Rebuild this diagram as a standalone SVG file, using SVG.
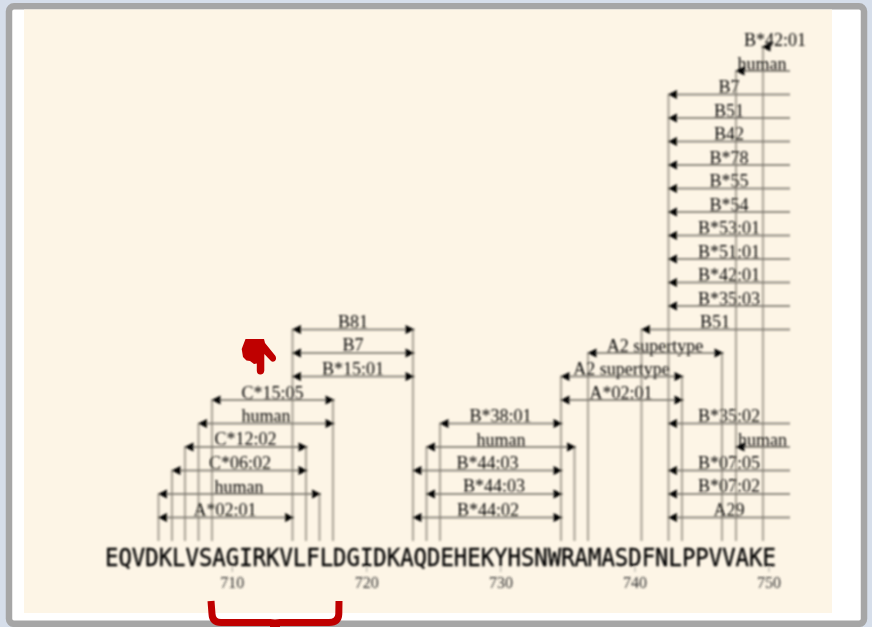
<svg xmlns="http://www.w3.org/2000/svg" width="872" height="627" viewBox="0 0 872 627">
<style>
.v{stroke:#8d877c;stroke-opacity:.7;stroke-width:2.2;fill:none}
.h{stroke:#7d7870;stroke-opacity:.85;stroke-width:1.8;fill:none;marker-start:url(#a);marker-end:url(#a)}
.l{stroke:#7d7870;stroke-opacity:.85;stroke-width:1.8;fill:none;marker-start:url(#a)}
.t{font-family:"Liberation Serif",serif;font-size:18px;fill:#000;text-anchor:middle}
.n{font-family:"Liberation Serif",serif;font-size:16px;fill:#333;text-anchor:middle}
.k{stroke:#b8b4aa;stroke-width:1.2}
.s{font-family:"DejaVu Sans Mono",monospace;font-size:25px;fill:#000;stroke:#000;stroke-width:.4}
</style>
<defs>
<marker id="a" markerUnits="userSpaceOnUse" markerWidth="11" markerHeight="10" refX="9.500" refY="5" orient="auto-start-reverse"><path d="M0.500 0.500L9.500 5L0.500 9.500Z" fill="#000"/></marker>
<filter id="b" filterUnits="userSpaceOnUse" x="0" y="0" width="872" height="627"><feGaussianBlur stdDeviation="0.8"/></filter>
</defs>
<rect id="page" width="872" height="627" fill="#d6deea"/>
<rect id="frame" x="9" y="6.300" width="855" height="617.500" rx="5" fill="#fff" stroke="#a6a6a6" stroke-width="6.500"/>
<rect id="panel" x="24" y="9.500" width="808" height="603.500" fill="#fdf5e6"/>
<g filter="url(#b)">
<g id="connectors">
<path class="v" d="M158.500 541V494M172 541V470.500M185 541V447M198.500 541V423.500M212 541V400M292.500 541V329.500M306 541V447M319.500 541V494M333 541V400M413 541V329.500M426.500 541V447M440 541V423.500M561 541V376.500M574.500 541V447M588 541V353M641.500 541V329.500M668.500 541V94.500M682 541V376.500M722 541V353M736 541V71M763 541V47"/>
<path class="h" d="M158 517.500H294"/>
<path class="h" d="M158 494H321"/>
<path class="h" d="M171.500 470.500H307.500"/>
<path class="h" d="M184.500 447H307.500"/>
<path class="h" d="M198 423.500H334.500"/>
<path class="h" d="M211.500 400H334.500"/>
<path class="h" d="M292 376.500H414.500"/>
<path class="h" d="M292 353H414.500"/>
<path class="h" d="M292 329.500H414.500"/>
<path class="h" d="M412.500 517.500H562.500"/>
<path class="h" d="M426 494H562.500"/>
<path class="h" d="M412.500 470.500H562.500"/>
<path class="h" d="M426 447H576"/>
<path class="h" d="M439.500 423.500H562.500"/>
<path class="h" d="M560.500 400H683.500"/>
<path class="h" d="M560.500 376.500H683.500"/>
<path class="h" d="M587.500 353H723.500"/>
<path class="l" d="M641 329.500H790"/>
<path class="l" d="M668 517.500H790"/>
<path class="l" d="M668 494H790"/>
<path class="l" d="M668 470.500H790"/>
<path class="l" d="M735.500 447H790"/>
<path class="l" d="M668 423.500H790"/>
<path class="l" d="M668 306H790"/>
<path class="l" d="M668 282.500H790"/>
<path class="l" d="M668 259H790"/>
<path class="l" d="M668 235.500H790"/>
<path class="l" d="M668 212H790"/>
<path class="l" d="M668 188.500H790"/>
<path class="l" d="M668 165H790"/>
<path class="l" d="M668 141.500H790"/>
<path class="l" d="M668 118H790"/>
<path class="l" d="M668 94.500H790"/>
<path class="l" d="M735.500 71H790"/>
<path class="l" d="M761.500 47H769"/>
</g>
<g id="labels-left">
<text id="l1" class="t" x="225" y="516">A*02:01</text>
<text id="l2" class="t" x="239" y="492.500">human</text>
<text id="l3" class="t" x="240" y="468.500">C*06:02</text>
<text id="l4" class="t" x="245.500" y="445">C*12:02</text>
<text id="l5" class="t" x="266" y="421.500">human</text>
<text id="l6" class="t" x="272.500" y="398.500">C*15:05</text>
<text id="l7" class="t" x="353" y="374.500">B*15:01</text>
<text id="l8" class="t" x="353" y="351">B7</text>
<text id="l9" class="t" x="353" y="328">B81</text>
</g>
<g id="labels-middle">
<text id="m1" class="t" x="488" y="516">B*44:02</text>
<text id="m2" class="t" x="494" y="492">B*44:03</text>
<text id="m3" class="t" x="487.500" y="468.500">B*44:03</text>
<text id="m4" class="t" x="501" y="445.500">human</text>
<text id="m5" class="t" x="500.500" y="422">B*38:01</text>
<text id="m6" class="t" x="621" y="398.500">A*02:01</text>
<text id="m7" class="t" x="621.500" y="375">A2 supertype</text>
<text id="m8" class="t" x="655" y="351.500">A2 supertype</text>
</g>
<g id="labels-right">
<text id="r1" class="t" x="729" y="516">A29</text>
<text id="r2" class="t" x="729" y="492">B*07:02</text>
<text id="r3" class="t" x="729" y="468.500">B*07:05</text>
<text id="r4" class="t" x="762.500" y="445.500">human</text>
<text id="r5" class="t" x="729" y="422">B*35:02</text>
<text id="r6" class="t" x="715" y="328">B51</text>
<text id="r7" class="t" x="729" y="304.500">B*35:03</text>
<text id="r8" class="t" x="729" y="281">B*42:01</text>
<text id="r9" class="t" x="729" y="257.500">B*51:01</text>
<text id="r10" class="t" x="729" y="234">B*53:01</text>
<text id="r11" class="t" x="729" y="210.500">B*54</text>
<text id="r12" class="t" x="729" y="187">B*55</text>
<text id="r13" class="t" x="729" y="163.500">B*78</text>
<text id="r14" class="t" x="729" y="140">B42</text>
<text id="r15" class="t" x="729" y="116.500">B51</text>
<text id="r16" class="t" x="729" y="93">B7</text>
<text id="r17" class="t" x="762" y="69.500">human</text>
<text id="r18" class="t" x="775" y="46">B*42:01</text>
</g>
<g id="sequence">
<text class="s" transform="translate(105 565.500) scale(.892 1)">EQVDKLVSAGIRKVLFLDGIDKAQDEHEKYHSNWRAMASDFNLPPVVAKE</text>
</g>
<g id="ruler">
<path class="k" d="M232.300 567V572M366.700 567V572M500.700 567V572M635 567V572M769 567V572"/>
<text class="n" x="232.300" y="588">710</text>
<text class="n" x="366.700" y="588">720</text>
<text class="n" x="501" y="588">730</text>
<text class="n" x="635" y="588">740</text>
<text class="n" x="769" y="588">750</text>
</g>
</g>
<g id="hand" fill="#bf0000">
<path d="M245.500 339H264L265 343L275.500 356Q277 359.500 274.500 361.300Q272.500 362.500 270.500 360.500L264.300 354V370.500Q264 374.500 260.300 374.500Q256.800 374.500 256.800 370.500V363.500L254 364L250 361L246.500 360.500L243 357L241.700 349Z"/>
</g>
<g id="brace" fill="none" stroke="#bf0000">
<path stroke-width="7" d="M211 601L212 614Q212.500 622.500 221 622.500H270L275 623L280 622.500H329Q338.500 622.500 338.800 614L339 601"/>
<path stroke-width="2" d="M270 626.500H280"/>
</g>
</svg>
